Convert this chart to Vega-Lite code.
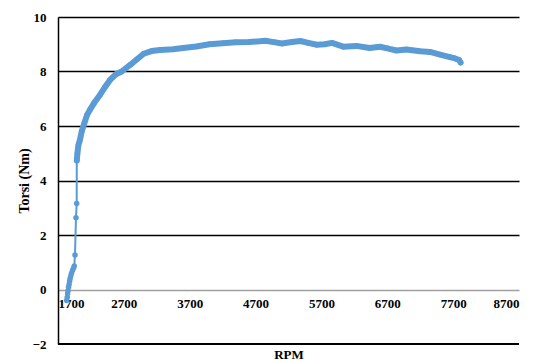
{
  "$schema": "https://vega.github.io/schema/vega-lite/v6.json",
  "width": 461,
  "height": 327,
  "autosize": {"type": "none"},
  "padding": {"left": 58, "top": 17, "right": 19, "bottom": 17},
  "background": "white",
  "config": {
    "view": {"stroke": null},
    "font": "Liberation Serif",
    "axis": {"labelFont": "Liberation Serif", "titleFont": "Liberation Serif", "labelFontWeight": "bold", "titleFontWeight": "bold", "labelColor": "black", "titleColor": "black", "labelFontSize": 13}
  },
  "data": {"values": [
    {"rpm": 1832, "torsi": -0.4},
    {"rpm": 1840, "torsi": -0.28},
    {"rpm": 1846, "torsi": -0.15},
    {"rpm": 1852, "torsi": -0.05},
    {"rpm": 1860, "torsi": 0.08},
    {"rpm": 1868, "torsi": 0.18},
    {"rpm": 1876, "torsi": 0.3},
    {"rpm": 1884, "torsi": 0.4},
    {"rpm": 1894, "torsi": 0.5},
    {"rpm": 1905, "torsi": 0.6},
    {"rpm": 1920, "torsi": 0.7},
    {"rpm": 1935, "torsi": 0.78},
    {"rpm": 1947, "torsi": 0.86},
    {"rpm": 1958, "torsi": 1.27},
    {"rpm": 1973, "torsi": 2.63},
    {"rpm": 1984, "torsi": 3.16},
    {"rpm": 1985, "torsi": 4.73},
    {"rpm": 1995, "torsi": 5.0},
    {"rpm": 2010, "torsi": 5.3},
    {"rpm": 2034, "torsi": 5.5},
    {"rpm": 2060, "torsi": 5.8},
    {"rpm": 2100, "torsi": 6.1},
    {"rpm": 2140, "torsi": 6.4},
    {"rpm": 2186, "torsi": 6.6},
    {"rpm": 2250, "torsi": 6.85},
    {"rpm": 2340, "torsi": 7.15},
    {"rpm": 2420, "torsi": 7.45},
    {"rpm": 2490, "torsi": 7.69},
    {"rpm": 2580, "torsi": 7.9},
    {"rpm": 2667, "torsi": 8.0},
    {"rpm": 2800, "torsi": 8.25},
    {"rpm": 2900, "torsi": 8.45},
    {"rpm": 3000, "torsi": 8.65},
    {"rpm": 3120, "torsi": 8.75},
    {"rpm": 3250, "torsi": 8.79},
    {"rpm": 3450, "torsi": 8.82},
    {"rpm": 3600, "torsi": 8.86},
    {"rpm": 3800, "torsi": 8.92},
    {"rpm": 4000, "torsi": 9.0},
    {"rpm": 4200, "torsi": 9.04},
    {"rpm": 4400, "torsi": 9.07},
    {"rpm": 4600, "torsi": 9.08},
    {"rpm": 4850, "torsi": 9.13},
    {"rpm": 5000, "torsi": 9.07},
    {"rpm": 5100, "torsi": 9.03},
    {"rpm": 5250, "torsi": 9.08},
    {"rpm": 5380, "torsi": 9.12},
    {"rpm": 5500, "torsi": 9.05},
    {"rpm": 5630, "torsi": 8.98},
    {"rpm": 5750, "torsi": 9.0},
    {"rpm": 5860, "torsi": 9.05},
    {"rpm": 6030, "torsi": 8.91},
    {"rpm": 6230, "torsi": 8.94},
    {"rpm": 6430, "torsi": 8.86},
    {"rpm": 6590, "torsi": 8.91},
    {"rpm": 6700, "torsi": 8.85},
    {"rpm": 6840, "torsi": 8.77},
    {"rpm": 6990, "torsi": 8.81},
    {"rpm": 7200, "torsi": 8.74},
    {"rpm": 7350, "torsi": 8.72},
    {"rpm": 7500, "torsi": 8.62},
    {"rpm": 7650, "torsi": 8.53},
    {"rpm": 7730, "torsi": 8.48},
    {"rpm": 7790, "torsi": 8.42},
    {"rpm": 7813, "torsi": 8.33}
  ]},
  "encoding": {
    "x": {"field": "rpm", "type": "quantitative", "scale": {"domain": [1700, 8700], "nice": false, "zero": false},
      "axis": {"values": [1700, 2700, 3700, 4700, 5700, 6700, 7700, 8700], "format": "d", "offset": -54, "domain": false, "ticks": false, "grid": false, "labelPadding": 7, "title": "RPM", "titleFontSize": 13, "titleY": 64, "titleBaseline": "middle"}},
    "y": {"field": "torsi", "type": "quantitative", "scale": {"domain": [-2, 10], "nice": false, "zero": false},
      "axis": {"values": [-2, 0, 2, 4, 6, 8, 10], "title": "Torsi (Nm)", "titleFontSize": 14, "titlePadding": 1, "ticks": false, "labelPadding": 12, "domainColor": "black", "domainWidth": 1.5,
        "gridColor": {"condition": {"test": "datum.value === 0", "value": "#a0a0a0"}, "value": "black"},
        "gridWidth": {"condition": {"test": "datum.value === -2", "value": 0}, "value": 1.3}}}
  },
  "layer": [
    {"mark": {"type": "rule", "color": "black", "strokeWidth": 1.8}, "encoding": {"x": null, "y": {"datum": -2}}},
    {"mark": {"type": "line", "color": "#5b9bd5", "strokeWidth": 2}, "encoding": {"order": {"value": null}}},
    {"mark": {"type": "point", "filled": true, "color": "#5b9bd5", "opacity": 1, "size": 30}},
    {"transform": [{"filter": "datum.torsi >= 4.7"}], "mark": {"type": "line", "color": "#5b9bd5", "strokeWidth": 6, "strokeJoin": "round", "strokeCap": "round"}, "encoding": {"order": {"value": null}}}
  ]
}
